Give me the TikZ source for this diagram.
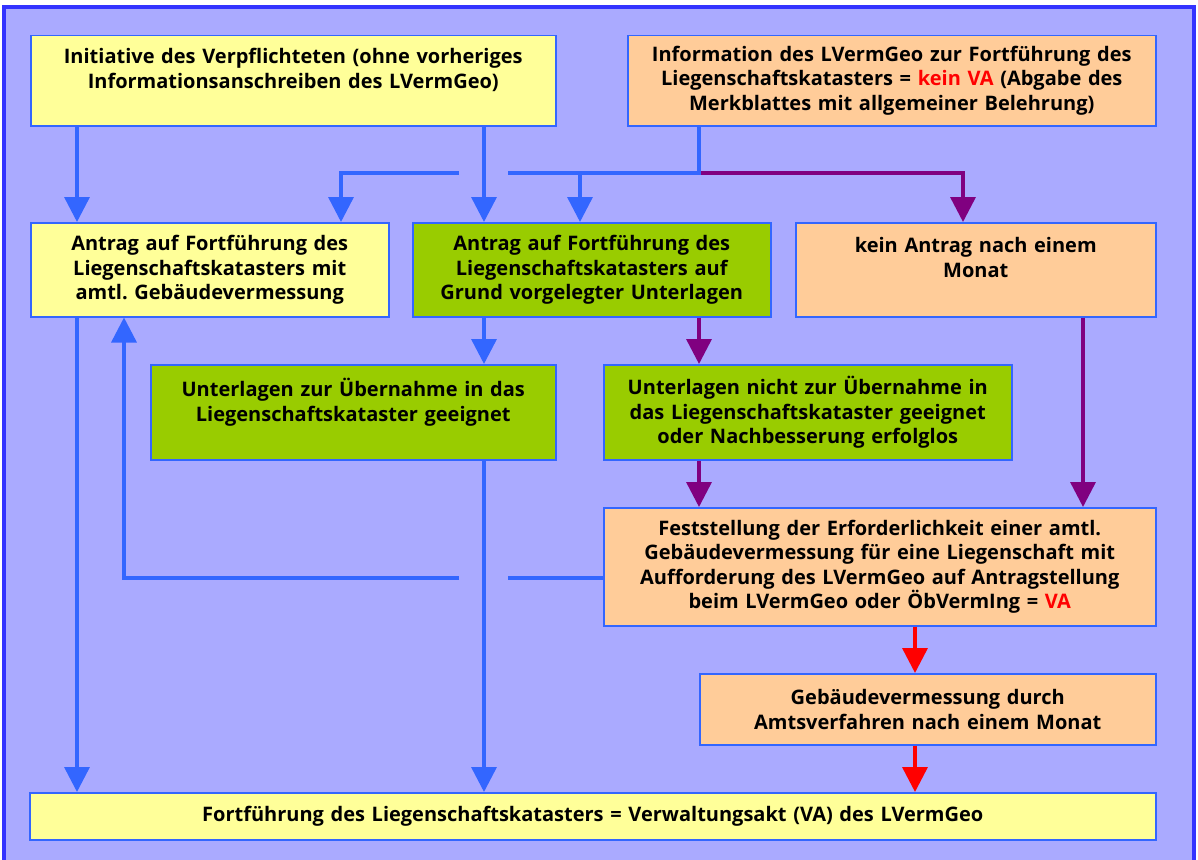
\documentclass[tikz,border=0pt]{standalone}
\usepackage{fontspec}
\setmainfont{Open Sans}
\frenchspacing
\usetikzlibrary{arrows.meta}
\definecolor{frameblue}{RGB}{51,51,255}
\definecolor{backblue}{RGB}{170,170,255}
\definecolor{lineblue}{RGB}{51,102,255}
\definecolor{boxyellow}{RGB}{255,255,153}
\definecolor{boxorange}{RGB}{255,204,153}
\definecolor{boxgreen}{RGB}{153,204,0}
\definecolor{lilac}{RGB}{128,0,128}

\begin{document}
\begin{tikzpicture}[x=1pt,y=-1pt,
	box/.style={draw=lineblue,line width=1.5pt,anchor=north west,align=center,inner sep=0pt,
		font=\bfseries\fontsize{20}{24.5}\selectfont},
	yellowbox/.style={box,fill=boxyellow},
	orangebox/.style={box,fill=boxorange},
	greenbox/.style={box,fill=boxgreen},
	conn/.style={line width=3.5pt},
	flow/.style={conn,-{Triangle[width=25pt,length=25pt]}},
	blueflow/.style={flow,lineblue},
	purpleflow/.style={flow,lilac},
	redflow/.style={flow,red}]
	%frame
	\useasboundingbox (0,0) rectangle (1198,859);
	\draw[frameblue,line width=3.5pt,fill=backblue] (4,7) rectangle (1194,880);
	%boxes
	\node[yellowbox,minimum width=525,text width=525,minimum height=90] (initiative) at (30,35)
		{Initiative des Verpflichteten (ohne vorheriges\\Informationsanschreiben des LVermGeo)\\\mbox{}};
	\node[orangebox,minimum width=528,text width=528,minimum height=90] (information) at (627,35)
		{Information des LVermGeo zur Fortführung des\\Liegenschaftskatasters = \textcolor{red}{kein VA} (Abgabe des\\Merkblattes mit allgemeiner Belehrung)};
	\node[yellowbox,minimum width=358,text width=358,minimum height=94] (antragamtl) at (30,222)
		{Antrag auf Fortführung des\\Liegenschaftskatasters mit\\amtl. Gebäudevermessung};
	\node[greenbox,minimum width=358,text width=358,minimum height=94] (antragunterl) at (412,222)
		{Antrag auf Fortführung des\\Liegenschaftskatasters auf\\Grund vorgelegter Unterlagen};
	\node[orangebox,minimum width=360,text width=360,minimum height=94] (keinantrag) at (795,222)
		{kein Antrag nach einem\\Monat\\\mbox{}};
	\node[greenbox,minimum width=405,text width=405,minimum height=95] (geeignet) at (150,364)
		{Unterlagen zur Übernahme in das\\Liegenschaftskataster geeignet\\\mbox{}};
	\node[greenbox,minimum width=408,text width=408,minimum height=95] (ungeeignet) at (603,364)
		{Unterlagen nicht zur Übernahme in\\das Liegenschaftskataster geeignet\\oder Nachbesserung erfolglos};
	\node[orangebox,minimum width=552,text width=552,minimum height=118] (feststellung) at (603,507)
		{Feststellung der Erforderlichkeit einer amtl.\\Gebäudevermessung für eine Liegenschaft mit\\Aufforderung des LVermGeo auf Antragstellung\\beim LVermGeo oder ÖbVermIng = \textcolor{red}{VA}};
	\node[orangebox,minimum width=456,text width=456,minimum height=71] (amtsverf) at (699,673)
		{Gebäudevermessung durch\\Amtsverfahren nach einem Monat};
	\node[yellowbox,minimum width=1126,text width=1126,minimum height=47] (fortf) at (29,792)
		{Fortführung des Liegenschaftskatasters = Verwaltungsakt (VA) des LVermGeo};
	%junctions
	\coordinate (bus) at (699,173);
	\coordinate (gapL) at (459,173);
	\coordinate (gapR) at (508,173);
	\coordinate (backL) at (459,578);
	\coordinate (backR) at (508,578);
	%from initiative
	\draw[blueflow] (initiative.south -| 77,0) -- (antragamtl.north -| 77,0);
	\draw[blueflow] (initiative.south -| 484,0) -- (antragunterl.north -| 484,0);
	%from information
	\draw[purpleflow] (bus) -| (keinantrag.north -| 963,0);
	\draw[conn,lineblue] (information.south -| bus) -- (bus) -- (gapR);
	\draw[blueflow] (gapL) -| (antragamtl.north -| 341,0);
	\draw[blueflow] (gapR -| 580,0) -- (antragunterl.north -| 580,0);
	%second row
	\draw[blueflow] (antragamtl.south -| 77,0) -- (fortf.north -| 77,0);
	\draw[blueflow] (antragunterl.south -| 484,0) -- (geeignet.north -| 484,0);
	\draw[purpleflow] (antragunterl.south -| 699,0) -- (ungeeignet.north -| 699,0);
	\draw[purpleflow] (keinantrag.south -| 1083,0) -- (feststellung.north -| 1083,0);
	%third row
	\draw[blueflow] (geeignet.south -| 484,0) -- (fortf.north -| 484,0);
	\draw[purpleflow] (ungeeignet.south -| 699,0) -- (feststellung.north -| 699,0);
	%back to antrag
	\draw[conn,lineblue] (feststellung.west |- backR) -- (backR);
	\draw[blueflow] (backL) -| (antragamtl.south -| 124,0);
	%red path
	\draw[redflow] (feststellung.south -| 915,0) -- (amtsverf.north -| 915,0);
	\draw[redflow] (amtsverf.south -| 915,0) -- (fortf.north -| 915,0);
\end{tikzpicture}
\end{document}
